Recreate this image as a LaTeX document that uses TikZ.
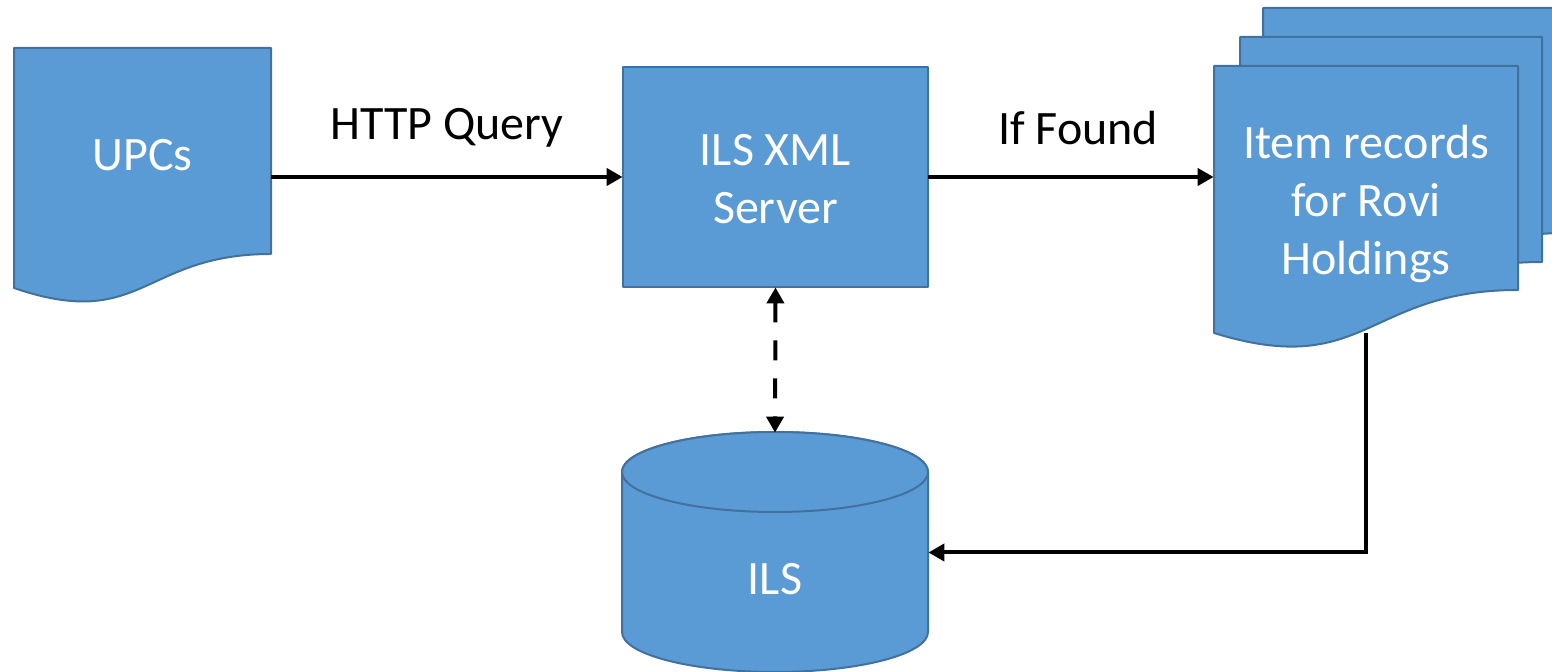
\documentclass[tikz,border=0pt]{standalone}
\usepackage{fontspec}
\setmainfont{Carlito}
\usetikzlibrary{arrows.meta}
\definecolor{boxfill}{HTML}{5B9BD5}
\definecolor{boxline}{HTML}{41719C}
\tikzset{
  shapefill/.style={fill=boxfill, draw=boxline, line width=1pt, line join=round},
  holder/.style={draw=none, inner sep=0pt},
  boxtext/.style={text=white, font=\fontsize{24}{29}\selectfont, align=center},
  lbltext/.style={text=black, font=\fontsize{24}{29}\selectfont},
  conn/.style={line width=2pt, -{Triangle[length=8pt,width=8.5pt]}},
  dconn/.style={line width=2pt, dash pattern=on 10pt off 9pt, {Triangle[length=8pt,width=8.5pt]}-{Triangle[length=8pt,width=8.5pt]}}
}
\begin{document}
\begin{tikzpicture}[x=0.5pt,y=-0.5pt]
\useasboundingbox (0,0) rectangle (1552,672);
% UPCs document
\draw[shapefill] (14,48) -- (271,48) -- (271,254) .. controls (142.5,254) and (142.5,332) .. (14,288) -- cycle;
\node[holder, minimum width=128.5pt, minimum height=103.5pt, boxtext, text depth=0pt] (upc) at (142.5,151.5) {};
\node[boxtext] (upctxt) at (142.5,155) {UPCs};
% Server box
\draw[shapefill] (623,67) rectangle (928,287);
\node[holder, minimum width=152.5pt, minimum height=110pt] (srv) at (775.5,177) {};
\node[boxtext] (srvtxt) at (775.5,179) {ILS XML\\Server};
% Stacked documents
\draw[shapefill] (1263,8) -- (1567,8) -- (1567,233) .. controls (1415,233) and (1415,323) .. (1263,276) -- cycle;
\draw[shapefill] (1240,37) -- (1542,37) -- (1542,262) .. controls (1391,262) and (1391,352) .. (1240,305) -- cycle;
\draw[shapefill] (1214,66) -- (1518,66) -- (1518,290) .. controls (1366,290) and (1366,380) .. (1214,333) -- cycle;
\node[holder, minimum width=152pt, minimum height=133.5pt] (rec) at (1366,199.5) {};
\node[boxtext] (rectxt) at (1366,204) {Item records\\for Rovi\\Holdings};
% Cylinder
\draw[shapefill] (622,472) -- (622,632) arc[start angle=180, end angle=0, x radius=153, y radius=40] -- (928,472) arc[start angle=0, end angle=-180, x radius=153, y radius=40] -- cycle;
\draw[shapefill] (775,472) ellipse[x radius=153, y radius=40];
\node[holder, minimum width=153pt, minimum height=119.5pt] (ils) at (775,552.5) {};
\node[boxtext] (ilstxt) at (775,579) {ILS};
% Labels
\node[lbltext] (httplbl) at (447,128) {HTTP Query};
\node[lbltext] (foundlbl) at (1078,128) {If Found};
% Connectors
\draw[conn] (upc.east |- srv.west) -- (srv.west);
\draw[conn] (srv.east) -- (rec.west |- srv.east);
\draw[dconn] (srv.south) -- (ils.north);
\draw[conn] (rec.south) |- (ils.east);
\end{tikzpicture}
\end{document}
